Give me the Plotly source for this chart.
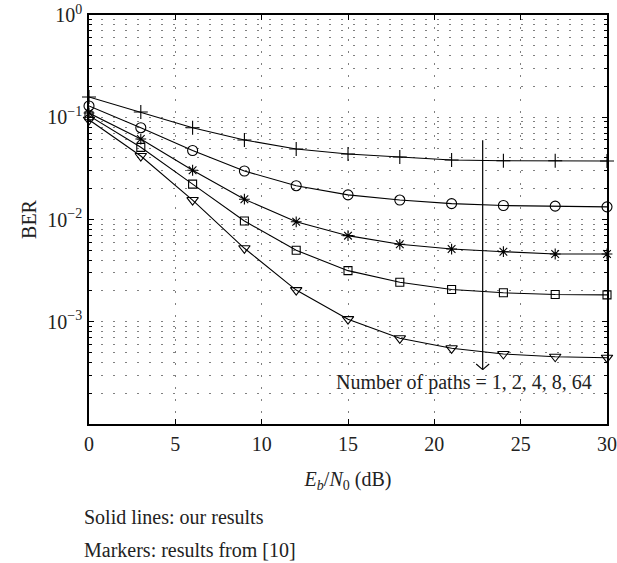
import math
import plotly.graph_objects as go

# ---- data ----
ebn0_db = [0, 3, 6, 9, 12, 15, 18, 21, 24, 27, 30]
ber_1path = [0.158, 0.1125, 0.079, 0.060, 0.0489, 0.0437, 0.0409, 0.0382, 0.0376, 0.0376, 0.0373]
ber_2paths = [0.129, 0.079, 0.0473, 0.0298, 0.0214, 0.0174, 0.0155, 0.0143, 0.0137, 0.0135, 0.0133]
ber_4paths = [0.110, 0.0612, 0.0303, 0.0158, 0.0095, 0.00695, 0.00572, 0.00514, 0.00484, 0.0046, 0.0046]
ber_8paths = [0.1035, 0.0508, 0.0222, 0.00966, 0.0050, 0.00316, 0.00243, 0.00207, 0.00192, 0.00185, 0.00183]
ber_64paths = [0.0945, 0.0418, 0.0155, 0.00523, 0.00204, 0.00106, 0.000689, 0.00055, 0.000484, 0.000455, 0.000445]

series = [
    ("1 path", ber_1path, "cross-thin-open"),
    ("2 paths", ber_2paths, "circle-open"),
    ("4 paths", ber_4paths, "asterisk-open"),
    ("8 paths", ber_8paths, "square-open"),
    ("64 paths", ber_64paths, "triangle-down-open"),
]
marker_sizes = {"cross-thin-open": 10, "circle-open": 10, "asterisk-open": 9,
                "square-open": 8, "triangle-down-open": 10}

x_ticks = [0, 5, 10, 15, 20, 25, 30]
y_tickvals = [1, 0.1, 0.01, 0.001]
y_ticktext = ["10<sup>0</sup>", "10<sup>\u22121</sup>", "10<sup>\u22122</sup>", "10<sup>\u22123</sup>"]
y_minor = [m * 10.0 ** e for e in range(-4, 0) for m in range(2, 10)]

arrow_x = 22.8
arrow_top = 0.0616
arrow_bottom = 0.00034
label_text = "Number of paths = 1, 2, 4, 8, 64"
label_x = 21.7
label_y = 0.000252

FONT = "Liberation Serif"
FS = 20
TXT = "#222"
GRID = dict(gridcolor="#808080", gridwidth=1, griddash="2px,10px")

fig = go.Figure()
for name, vals, sym in series:
    fig.add_trace(go.Scatter(
        x=ebn0_db, y=vals, name=name, mode="lines+markers",
        line=dict(color="black", width=1.1),
        marker=dict(symbol=sym, size=marker_sizes[sym], color="black",
                    line=dict(color="black", width=1.1)),
        showlegend=False, cliponaxis=False,
    ))

# vertical arrow shaft
fig.add_annotation(
    x=arrow_x, y=math.log10(arrow_bottom), xref="x", yref="y",
    ax=arrow_x, ay=math.log10(arrow_top), axref="x", ayref="y",
    showarrow=True, arrowhead=0, arrowwidth=1.2, arrowcolor="black",
    text="", font=dict(size=1),
)
# open V arrow head (two thin arms)
for dx in (-8, 8):
    fig.add_annotation(
        x=arrow_x, y=math.log10(arrow_bottom), xref="x", yref="y",
        ax=dx, ay=-7, showarrow=True, arrowhead=0, arrowwidth=1.1, arrowcolor="black",
        text="", font=dict(size=1),
    )
fig.add_annotation(
    x=label_x, y=math.log10(label_y), xref="x", yref="y",
    text=label_text, showarrow=False, font=dict(family=FONT, size=FS, color=TXT),
)
fig.add_annotation(
    x=-0.0135, y=-0.228, xref="paper", yref="paper", xanchor="left", yanchor="middle",
    text="Solid lines: our results", showarrow=False,
    font=dict(family=FONT, size=FS, color=TXT),
)
fig.add_annotation(
    x=-0.0135, y=-0.307, xref="paper", yref="paper", xanchor="left", yanchor="middle",
    text="Markers: results from [10]", showarrow=False,
    font=dict(family=FONT, size=FS, color=TXT),
)

fig.update_xaxes(
    range=[0, 30], tickmode="array", tickvals=x_ticks,
    ticks="inside", ticklen=5, tickcolor="black", mirror="ticks",
    showline=True, linecolor="black", linewidth=1.5,
    showgrid=True, **GRID, zeroline=False,
    tickfont=dict(family=FONT, size=FS, color=TXT),
    ticklabelstandoff=1, ticklabeloverflow="allow",
    title=dict(text="<i>E</i><sub><i>b</i></sub>/<i>N</i><sub>0</sub> (dB)",
               font=dict(family=FONT, size=FS, color=TXT), standoff=18),
)
fig.update_yaxes(
    type="log", range=[-4, 0], tickmode="array", tickvals=y_tickvals, ticktext=y_ticktext,
    ticks="inside", ticklen=5, tickcolor="black", mirror="allticks",
    showline=True, linecolor="black", linewidth=1.5,
    showgrid=True, **GRID, zeroline=False,
    minor=dict(tickmode="array", tickvals=y_minor, ticks="inside", ticklen=3,
               tickcolor="black", showgrid=True, gridcolor="#808080", griddash="2px,10px"),
    tickfont=dict(family=FONT, size=FS, color=TXT),
    ticklabelstandoff=1, ticklabeloverflow="allow",
    title=dict(text="BER", font=dict(family=FONT, size=FS, color=TXT), standoff=5),
)

fig.update_layout(
    width=617, height=563,
    margin=dict(l=89, r=10, t=15, b=139, autoexpand=False),
    paper_bgcolor="white", plot_bgcolor="white",
    font=dict(family=FONT, size=FS, color=TXT),
)

# remove the default 8px body margin so the figure fills the window exactly
fig.write_html("out.html", config={"displayModeBar": False},
               post_script="document.body.style.margin='0';")
